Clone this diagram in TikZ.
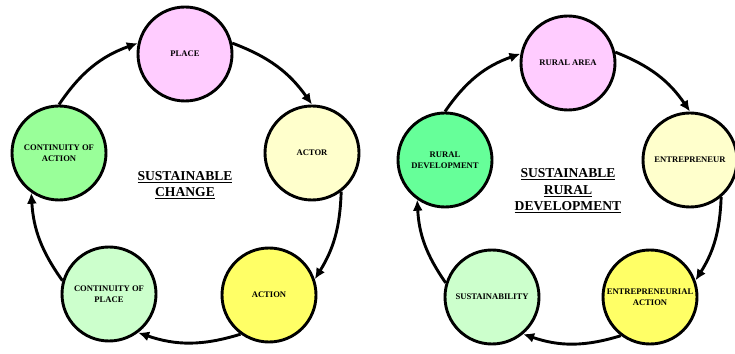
\documentclass[tikz,border=0pt]{standalone}
\usepackage{fontspec}
\setmainfont{Liberation Serif}
\usetikzlibrary{arrows.meta}
\definecolor{pinkc}{HTML}{FFCCFF}
\definecolor{paleyel}{HTML}{FFFFCC}
\definecolor{yelc}{HTML}{FFFF66}
\definecolor{palegrn}{HTML}{CCFFCC}
\definecolor{grnc}{HTML}{99FF99}
\definecolor{seagrn}{HTML}{66FF99}
\begin{document}
\begin{tikzpicture}[x=1pt,y=1pt,
  stage/.style={circle,draw,line width=2.9pt,minimum size=94pt,inner sep=0pt,align=center,font=\fontsize{8.6}{11.5}\selectfont\bfseries},
  title/.style={align=center,font=\fontsize{13.6}{16.5}\selectfont\bfseries},
  cyc/.style={-{Latex[length=11pt,width=10pt]},line width=2.9pt}]
\useasboundingbox (0,0) rectangle (735,353);
% Left cycle: sustainable change
\node[stage,fill=pinkc] (place) at (185,299) {PLACE};
\node[stage,fill=paleyel] (actor) at (312,200) {ACTOR};
\node[stage,fill=yelc] (action) at (269,58) {ACTION};
\node[stage,fill=palegrn] (cplace) at (109,59) {CONTINUITY OF\\PLACE};
\node[stage,fill=grnc] (caction) at (59,200) {CONTINUITY OF\\ACTION};
\node[title] (change) at (185,168) {\underline{SUSTAINABLE}\\\underline{CHANGE}};
\draw[cyc] (place.13) to[bend left=17] (actor.90);
\draw[cyc] (actor.-53) to[bend left=15] (action.19);
\draw[cyc] (action.-126) to[bend left=18] (cplace.-53);
\draw[cyc] (cplace.164) to[bend left=16] (caction.-125);
\draw[cyc] (caction.90) to[bend left=18] (place.167);
% Right cycle: sustainable rural development
\node[stage,fill=pinkc] (rural) at (568,290) {RURAL AREA};
\node[stage,fill=paleyel] (entre) at (690,193) {ENTREPRENEUR};
\node[stage,fill=yelc] (eaction) at (650,56) {ENTREPRENEURIAL\\ACTION};
\node[stage,fill=palegrn] (sustain) at (492,56) {SUSTAINABILITY};
\node[stage,fill=seagrn] (ruraldev) at (445,193) {RURAL\\DEVELOPMENT};
\node[title] (srd) at (568,162) {\underline{SUSTAINABLE}\\\underline{RURAL}\\\underline{DEVELOPMENT}};
\draw[cyc] (rural.13) to[bend left=17] (entre.90);
\draw[cyc] (entre.-50) to[bend left=15] (eaction.20);
\draw[cyc] (eaction.-127) to[bend left=18] (sustain.-50);
\draw[cyc] (sustain.163) to[bend left=16] (ruraldev.-125);
\draw[cyc] (ruraldev.90) to[bend left=18] (rural.169);
\end{tikzpicture}
\end{document}
